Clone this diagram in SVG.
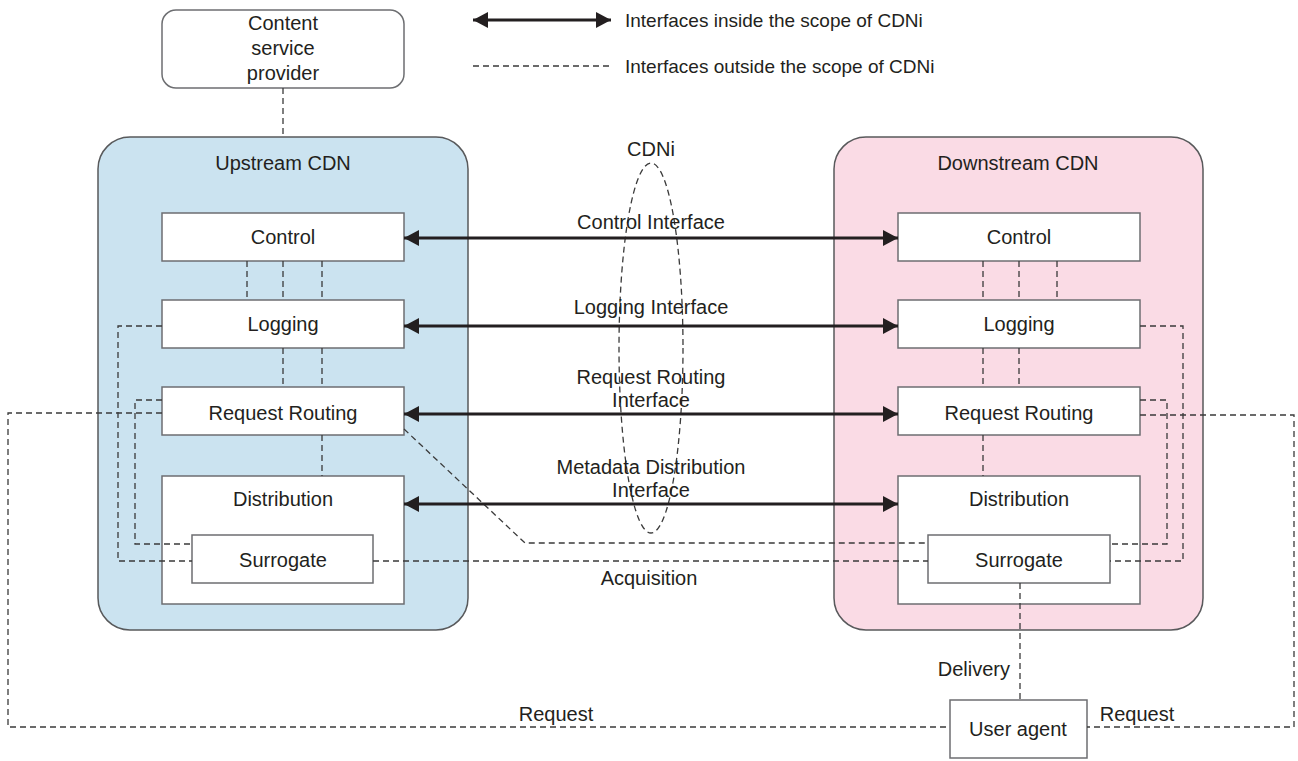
<svg xmlns="http://www.w3.org/2000/svg" width="1298" height="761" viewBox="0 0 1298 761">
<style>
text{font-family:"Liberation Sans",Arial,Helvetica,sans-serif;font-size:20px;fill:#231f20;text-anchor:middle}
.box{fill:#fff;stroke:#6d6e71;stroke-width:1.5}
.cont{stroke:#58595b;stroke-width:1.5}
.dash{fill:none;stroke:#3a3a3a;stroke-width:1.3;stroke-dasharray:6 4}
.arr{stroke:#231f20;stroke-width:3;fill:none;marker-start:url(#ah);marker-end:url(#ah)}
.l{text-anchor:start;font-size:19px}
</style>
<defs>
<marker id="ah" markerUnits="userSpaceOnUse" markerWidth="16" markerHeight="18" refX="15" refY="8" orient="auto-start-reverse" viewBox="0 0 16 16">
<path d="M0,0 L15,8 L0,16 z" fill="#231f20"/>
</marker>
</defs>

<g id="legend">
<line class="arr" x1="473" y1="20" x2="611" y2="20"/>
<text class="l" x="625" y="27">Interfaces inside the scope of CDNi</text>
<line class="dash" x1="473" y1="66" x2="611" y2="66"/>
<text class="l" x="625" y="73">Interfaces outside the scope of CDNi</text>
</g>

<g id="upstream-cdn">
<rect class="cont" x="98" y="137" width="370" height="493" rx="32" fill="#cbe3f0"/>
<text x="283" y="170">Upstream CDN</text>
</g>
<g id="downstream-cdn">
<rect class="cont" x="834" y="137" width="369" height="493" rx="32" fill="#fadbe5"/>
<text x="1018" y="170">Downstream CDN</text>
</g>

<g id="csp">
<rect class="box" x="162" y="10" width="242" height="78" rx="14"/>
<text x="283" y="30">Content</text>
<text x="283" y="55">service</text>
<text x="283" y="80">provider</text>
</g>

<g id="up-control"><rect class="box" x="162" y="213" width="242" height="48"/><text x="283" y="244">Control</text></g>
<g id="up-logging"><rect class="box" x="162" y="300" width="242" height="48"/><text x="283" y="331">Logging</text></g>
<g id="up-rr"><rect class="box" x="162" y="387" width="242" height="48"/><text x="283" y="420">Request Routing</text></g>
<g id="up-distribution"><rect class="box" x="162" y="476" width="242" height="128"/><text x="283" y="506">Distribution</text></g>
<g id="up-surrogate"><rect class="box" x="192" y="535" width="181" height="48"/><text x="283" y="567">Surrogate</text></g>

<g id="down-control"><rect class="box" x="898" y="213" width="242" height="48"/><text x="1019" y="244">Control</text></g>
<g id="down-logging"><rect class="box" x="898" y="300" width="242" height="48"/><text x="1019" y="331">Logging</text></g>
<g id="down-rr"><rect class="box" x="898" y="387" width="242" height="48"/><text x="1019" y="420">Request Routing</text></g>
<g id="down-distribution"><rect class="box" x="898" y="476" width="242" height="128"/><text x="1019" y="506">Distribution</text></g>
<g id="down-surrogate"><rect class="box" x="928" y="535" width="182" height="48"/><text x="1019" y="567">Surrogate</text></g>

<g id="user-agent"><rect class="box" x="950" y="700" width="137" height="58"/><text x="1018" y="736">User agent</text></g>

<g id="cdni">
<ellipse class="dash" cx="651" cy="348" rx="32" ry="185" stroke-width="1"/>
<text x="651" y="156">CDNi</text>
</g>

<g id="connectors">
<path class="dash" d="M283,88 V137"/>
<path class="dash" d="M247,261 V300 M283,261 V300 M322,261 V300 M283,348 V387 M322,348 V387 M322,435 V476"/>
<path class="dash" d="M983,261 V300 M1019,261 V300 M1057,261 V300 M983,348 V387 M1019,348 V387 M983,435 V476"/>
<path class="dash" d="M162,326 H118 V561 H192"/>
<path class="dash" d="M162,400 H135 V544 H192"/>
<path class="dash" d="M162,413 H8 V727 H950"/>
<path class="dash" d="M404,429 L525,543 H928"/>
<path class="dash" d="M373,561 H928"/>
<path class="dash" d="M1140,326 H1183 V561 H1110"/>
<path class="dash" d="M1140,400 H1167 V544 H1110"/>
<path class="dash" d="M1140,415 H1294 V727 H1087"/>
<path class="dash" d="M1020,583 V700"/>
<line class="arr" x1="404" y1="238" x2="898" y2="238"/>
<line class="arr" x1="404" y1="326" x2="898" y2="326"/>
<line class="arr" x1="404" y1="414" x2="898" y2="414"/>
<line class="arr" x1="404" y1="504" x2="898" y2="504"/>
<text x="651" y="229">Control Interface</text>
<text x="651" y="314">Logging Interface</text>
<text x="651" y="384">Request Routing</text>
<text x="651" y="407">Interface</text>
<text x="651" y="474">Metadata Distribution</text>
<text x="651" y="497">Interface</text>
<text x="649" y="585">Acquisition</text>
<text x="1010" y="676" style="text-anchor:end">Delivery</text>
<text x="556" y="721">Request</text>
<text x="1137" y="721">Request</text>
</g>
</svg>
